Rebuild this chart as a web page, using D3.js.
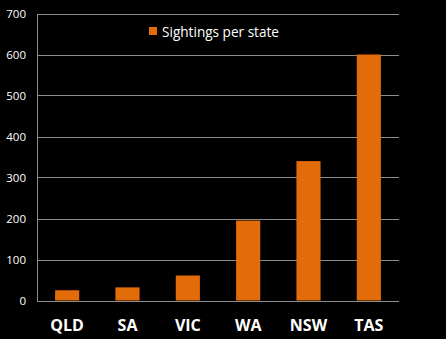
<!DOCTYPE html>
<html><head><meta charset="utf-8">
<script src="https://cdn.jsdelivr.net/npm/d3@7"></script>
<style>html,body{margin:0;padding:0;background:#000;}</style>
</head><body>
<svg id="c" width="446" height="339"></svg>
<script>
const categories = ["QLD","SA","VIC","WA","NSW","TAS"];
const values = [25, 32, 61, 195, 340, 600];
const yTicks = [0,100,200,300,400,500,600,700];
const seriesName = "Sightings per state";

(function(){
const svg = d3.select("#c");
svg.append("rect").attr("width",446).attr("height",339).attr("fill","#000");
const mLeft = 37, mRight = 399, mTop = 13.5, mBottom = 300.5;
const x = d3.scaleBand().domain(categories).range([mLeft,mRight]).paddingInner(0.6).paddingOuter(0.3);
const y = d3.scaleLinear().domain([0,700]).range([mBottom,mTop]);

// gridlines
svg.append("g").selectAll("line").data(yTicks).join("line")
  .attr("x1",mLeft).attr("x2",mRight)
  .attr("y1",d=>Math.round(y(d))+0.5).attr("y2",d=>Math.round(y(d))+0.5)
  .attr("stroke","#8c8c8c").attr("stroke-width",1);
// y axis line
svg.append("line").attr("x1",mLeft+0.5).attr("x2",mLeft+0.5).attr("y1",Math.round(y(700))+0.5).attr("y2",Math.round(y(0))+0.5)
  .attr("stroke","#8c8c8c");

// y tick labels
svg.append("g").selectAll("text").data(yTicks).join("text")
  .attr("x",26).attr("y",d=>y(d)+4)
  .attr("text-anchor","end").attr("fill","#fff")
  .attr("font-family","Open Sans, sans-serif").attr("font-size",11.5)
  .text(d=>d);

// bars
svg.append("g").selectAll("rect").data(values).join("rect")
  .attr("x",(d,i)=>x(categories[i])).attr("width",x.bandwidth())
  .attr("y",d=>y(d)).attr("height",d=>y(0)-y(d))
  .attr("fill","#e36c0a");

// x labels
svg.append("g").selectAll("text").data(categories).join("text")
  .attr("x",d=>x(d)+x.bandwidth()/2).attr("y",331)
  .attr("text-anchor","middle").attr("fill","#fff")
  .attr("font-family","Open Sans, sans-serif").attr("font-weight","bold").attr("font-size",16)
  .text(d=>d);

// legend
svg.append("rect").attr("x",149).attr("y",27).attr("width",8).attr("height",8).attr("fill","#e36c0a");
svg.append("text").attr("x",162).attr("y",37).attr("fill","#fff")
  .attr("font-family","Open Sans, sans-serif").attr("font-size",13.6).text(seriesName);
})();
</script>
</body></html>
